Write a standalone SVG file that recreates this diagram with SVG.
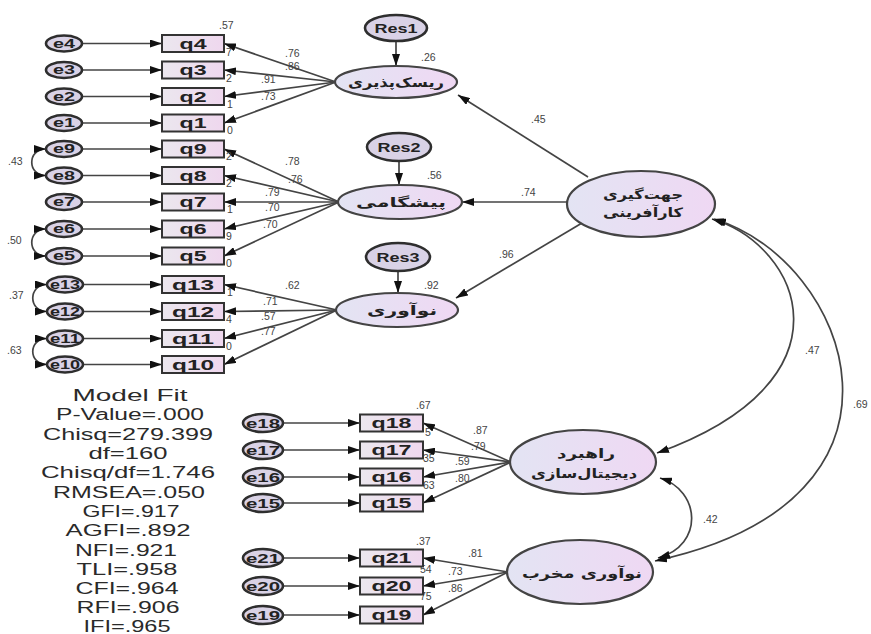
<svg xmlns="http://www.w3.org/2000/svg" width="871" height="634" viewBox="0 0 871 634">
<defs>
  <linearGradient id="boxFill" x1="0" y1="0" x2="1" y2="0">
    <stop offset="0" stop-color="#ebe7ee"/>
    <stop offset="1" stop-color="#efd7ee"/>
  </linearGradient>
  <linearGradient id="latFill" x1="0" y1="0" x2="1" y2="0">
    <stop offset="0" stop-color="#e3e4f3"/>
    <stop offset="1" stop-color="#efd8f3"/>
  </linearGradient>
  <marker id="ah" viewBox="0 0 12 8" refX="12" refY="4" markerWidth="12" markerHeight="8" markerUnits="userSpaceOnUse" orient="auto-start-reverse">
    <path d="M0,0 L12,4 L0,8 z" fill="#111"/>
  </marker>
</defs>
<style>
  .box{fill:url(#boxFill);stroke:#333;stroke-width:2}
  .err{fill:#d9d2e6;stroke:#2e2e2e;stroke-width:2.6}
  .lat{fill:url(#latFill);stroke:#444;stroke-width:2.2}
  .res{fill:#d9d2e6;stroke:#2e2e2e;stroke-width:2.6}
  .ln{stroke:#444;stroke-width:1.7;fill:none}
  .arr{marker-end:url(#ah)}
  .both{marker-start:url(#ah);marker-end:url(#ah)}
  .qt{font-family:"Liberation Sans",Arial,sans-serif;font-weight:bold;font-size:14px;fill:#222;text-anchor:middle}
  .et{font-family:"Liberation Sans",Arial,sans-serif;font-weight:bold;font-size:12px;fill:#222;text-anchor:middle}
  .rt{font-family:"Liberation Sans",Arial,sans-serif;font-weight:bold;font-size:13px;fill:#222;text-anchor:middle}
  .fa{font-family:"DejaVu Sans",sans-serif;font-weight:bold;font-size:13px;fill:#222;text-anchor:middle}
  .lb{font-family:"Liberation Sans",Arial,sans-serif;font-size:10.5px;fill:#444}
  .fit{font-family:"Liberation Sans",Arial,sans-serif;font-size:16px;fill:#2a2a2a;text-anchor:middle}
</style>

<!-- connectors -->
<g id="connectors">
  <!-- error terms to indicators -->
  <g class="ln arr">
    <line x1="82" y1="43.5" x2="162" y2="43.5"/>
    <line x1="82" y1="70" x2="162" y2="70"/>
    <line x1="82" y1="96.5" x2="162" y2="96.5"/>
    <line x1="82" y1="123" x2="162" y2="123"/>
    <line x1="82" y1="149" x2="162" y2="149"/>
    <line x1="82" y1="175.5" x2="162" y2="175.5"/>
    <line x1="82" y1="202" x2="162" y2="202"/>
    <line x1="82" y1="229" x2="162" y2="229"/>
    <line x1="82" y1="256" x2="162" y2="256"/>
    <line x1="83" y1="284.5" x2="162" y2="284.5"/>
    <line x1="83" y1="311.5" x2="162" y2="311.5"/>
    <line x1="83" y1="338.5" x2="162" y2="338.5"/>
    <line x1="83" y1="364.5" x2="162" y2="364.5"/>
    <line x1="283" y1="423" x2="360" y2="423"/>
    <line x1="283" y1="450" x2="360" y2="450"/>
    <line x1="283" y1="477" x2="360" y2="477"/>
    <line x1="283" y1="503" x2="360" y2="503"/>
    <line x1="283" y1="558" x2="360" y2="558"/>
    <line x1="283" y1="586" x2="360" y2="586"/>
    <line x1="283" y1="615" x2="360" y2="615"/>
  </g>
  <!-- factor loadings -->
  <g class="ln arr">
    <line x1="336" y1="82" x2="224" y2="43.5"/>
    <line x1="336" y1="82" x2="224" y2="70"/>
    <line x1="336" y1="82" x2="224" y2="96.5"/>
    <line x1="336" y1="82" x2="224" y2="123"/>
    <line x1="339" y1="202" x2="224" y2="149"/>
    <line x1="339" y1="202" x2="224" y2="175.5"/>
    <line x1="339" y1="202" x2="224" y2="202"/>
    <line x1="339" y1="202" x2="224" y2="229"/>
    <line x1="339" y1="202" x2="224" y2="256"/>
    <line x1="337" y1="310" x2="224" y2="284.5"/>
    <line x1="337" y1="310" x2="224" y2="311.5"/>
    <line x1="337" y1="310" x2="224" y2="338.5"/>
    <line x1="337" y1="310" x2="224" y2="364.5"/>
    <line x1="511" y1="462" x2="423" y2="423"/>
    <line x1="511" y1="462" x2="423" y2="450"/>
    <line x1="511" y1="462" x2="423" y2="477"/>
    <line x1="511" y1="462" x2="423" y2="503"/>
    <line x1="508" y1="572" x2="423" y2="558"/>
    <line x1="508" y1="572" x2="423" y2="586"/>
    <line x1="508" y1="572" x2="423" y2="615"/>
  </g>
  <!-- residuals to first-order factors -->
  <g class="ln arr">
    <line x1="396" y1="41" x2="396" y2="66"/>
    <line x1="399" y1="161" x2="399" y2="185"/>
    <line x1="398" y1="271" x2="398" y2="293"/>
  </g>
  <!-- second-order paths -->
  <g class="ln arr">
    <line x1="588" y1="177" x2="458" y2="95"/>
    <line x1="567" y1="202" x2="462" y2="202"/>
    <line x1="582" y1="223" x2="456" y2="298"/>
  </g>
  <!-- error covariances -->
  <g class="ln both">
    <path d="M46 149 C27 149 27 175.5 46 175.5"/>
    <path d="M46 229 C27 229 27 256 46 256"/>
    <path d="M47 284.5 C28 284.5 28 311.5 47 311.5"/>
    <path d="M47 338.5 C28 338.5 28 364.5 47 364.5"/>
  </g>
  <!-- factor covariances -->
  <g class="ln both">
    <path d="M712 219 C800 245 860 380 657 453"/>
    <path d="M714 219 C850 260 940 500 655 561"/>
    <path d="M660 478 C700 490 705 545 658 558"/>
  </g>
</g>

<!-- R-square values partly hidden behind the boxes -->
<g id="r2-fragments" class="lb">
  <text x="226" y="56">7</text>
  <text x="226" y="82">2</text>
  <text x="227" y="108">1</text>
  <text x="227" y="134">0</text>
  <text x="226" y="160">2</text>
  <text x="226" y="187">2</text>
  <text x="227" y="213">1</text>
  <text x="226" y="240">9</text>
  <text x="226" y="267">0</text>
  <text x="227" y="296">1</text>
  <text x="226" y="323">4</text>
  <text x="226" y="350">0</text>
  <text x="425" y="436">5</text>
  <text x="423" y="462">35</text>
  <text x="423" y="489">63</text>
  <text x="420" y="573">54</text>
  <text x="420" y="600">75</text>
</g>

<!-- error terms -->
<g id="e4"><ellipse class="err" cx="64" cy="43.5" rx="18" ry="8"/><text class="et" x="64" y="47.5" textLength="22" lengthAdjust="spacingAndGlyphs">e4</text></g>
<g id="e3"><ellipse class="err" cx="64" cy="70" rx="18" ry="8"/><text class="et" x="64" y="74" textLength="22" lengthAdjust="spacingAndGlyphs">e3</text></g>
<g id="e2"><ellipse class="err" cx="64" cy="96.5" rx="18" ry="8"/><text class="et" x="64" y="100.5" textLength="22" lengthAdjust="spacingAndGlyphs">e2</text></g>
<g id="e1"><ellipse class="err" cx="64" cy="123" rx="18" ry="8"/><text class="et" x="64" y="127" textLength="22" lengthAdjust="spacingAndGlyphs">e1</text></g>
<g id="e9"><ellipse class="err" cx="64" cy="149" rx="18" ry="8"/><text class="et" x="64" y="153" textLength="22" lengthAdjust="spacingAndGlyphs">e9</text></g>
<g id="e8"><ellipse class="err" cx="64" cy="175.5" rx="18" ry="8"/><text class="et" x="64" y="179.5" textLength="22" lengthAdjust="spacingAndGlyphs">e8</text></g>
<g id="e7"><ellipse class="err" cx="64" cy="202" rx="18" ry="8"/><text class="et" x="64" y="206" textLength="22" lengthAdjust="spacingAndGlyphs">e7</text></g>
<g id="e6"><ellipse class="err" cx="64" cy="229" rx="18" ry="8"/><text class="et" x="64" y="233" textLength="22" lengthAdjust="spacingAndGlyphs">e6</text></g>
<g id="e5"><ellipse class="err" cx="64" cy="256" rx="18" ry="8"/><text class="et" x="64" y="260" textLength="22" lengthAdjust="spacingAndGlyphs">e5</text></g>
<g id="e13"><ellipse class="err" cx="65" cy="284.5" rx="18" ry="8"/><text class="et" x="65" y="288.5" textLength="30" lengthAdjust="spacingAndGlyphs">e13</text></g>
<g id="e12"><ellipse class="err" cx="65" cy="311.5" rx="18" ry="8"/><text class="et" x="65" y="315.5" textLength="30" lengthAdjust="spacingAndGlyphs">e12</text></g>
<g id="e11"><ellipse class="err" cx="65" cy="338.5" rx="18" ry="8"/><text class="et" x="65" y="342.5" textLength="30" lengthAdjust="spacingAndGlyphs">e11</text></g>
<g id="e10"><ellipse class="err" cx="65" cy="364.5" rx="18" ry="8"/><text class="et" x="65" y="368.5" textLength="30" lengthAdjust="spacingAndGlyphs">e10</text></g>
<g id="e18"><ellipse class="err" cx="263" cy="423" rx="20" ry="9"/><text class="et" x="263" y="427.5" textLength="34" lengthAdjust="spacingAndGlyphs">e18</text></g>
<g id="e17"><ellipse class="err" cx="263" cy="450" rx="20" ry="9"/><text class="et" x="263" y="454.5" textLength="34" lengthAdjust="spacingAndGlyphs">e17</text></g>
<g id="e16"><ellipse class="err" cx="263" cy="477" rx="20" ry="9"/><text class="et" x="263" y="481.5" textLength="34" lengthAdjust="spacingAndGlyphs">e16</text></g>
<g id="e15"><ellipse class="err" cx="263" cy="503" rx="20" ry="9"/><text class="et" x="263" y="507.5" textLength="34" lengthAdjust="spacingAndGlyphs">e15</text></g>
<g id="e21"><ellipse class="err" cx="263" cy="558" rx="20" ry="9"/><text class="et" x="263" y="562.5" textLength="34" lengthAdjust="spacingAndGlyphs">e21</text></g>
<g id="e20"><ellipse class="err" cx="263" cy="586" rx="20" ry="9"/><text class="et" x="263" y="590.5" textLength="34" lengthAdjust="spacingAndGlyphs">e20</text></g>
<g id="e19"><ellipse class="err" cx="263" cy="615" rx="20" ry="9"/><text class="et" x="263" y="619.5" textLength="34" lengthAdjust="spacingAndGlyphs">e19</text></g>

<!-- indicators -->
<g id="q4"><rect class="box" x="162" y="35" width="62" height="17"/><text class="qt" x="193" y="48.5" textLength="27" lengthAdjust="spacingAndGlyphs">q4</text></g>
<g id="q3"><rect class="box" x="162" y="61.5" width="62" height="17"/><text class="qt" x="193" y="75" textLength="27" lengthAdjust="spacingAndGlyphs">q3</text></g>
<g id="q2"><rect class="box" x="162" y="88" width="62" height="17"/><text class="qt" x="193" y="101.5" textLength="27" lengthAdjust="spacingAndGlyphs">q2</text></g>
<g id="q1"><rect class="box" x="162" y="114.5" width="62" height="17"/><text class="qt" x="193" y="128" textLength="27" lengthAdjust="spacingAndGlyphs">q1</text></g>
<g id="q9"><rect class="box" x="162" y="140.5" width="62" height="17"/><text class="qt" x="193" y="154" textLength="27" lengthAdjust="spacingAndGlyphs">q9</text></g>
<g id="q8"><rect class="box" x="162" y="167" width="62" height="17"/><text class="qt" x="193" y="180.5" textLength="27" lengthAdjust="spacingAndGlyphs">q8</text></g>
<g id="q7"><rect class="box" x="162" y="193.5" width="62" height="17"/><text class="qt" x="193" y="207" textLength="27" lengthAdjust="spacingAndGlyphs">q7</text></g>
<g id="q6"><rect class="box" x="162" y="220.5" width="62" height="17"/><text class="qt" x="193" y="234" textLength="27" lengthAdjust="spacingAndGlyphs">q6</text></g>
<g id="q5"><rect class="box" x="162" y="247.5" width="62" height="17"/><text class="qt" x="193" y="261" textLength="27" lengthAdjust="spacingAndGlyphs">q5</text></g>
<g id="q13"><rect class="box" x="162" y="276" width="62" height="17"/><text class="qt" x="193" y="289.5" textLength="42" lengthAdjust="spacingAndGlyphs">q13</text></g>
<g id="q12"><rect class="box" x="162" y="303" width="62" height="17"/><text class="qt" x="193" y="316.5" textLength="42" lengthAdjust="spacingAndGlyphs">q12</text></g>
<g id="q11"><rect class="box" x="162" y="330" width="62" height="17"/><text class="qt" x="193" y="343.5" textLength="42" lengthAdjust="spacingAndGlyphs">q11</text></g>
<g id="q10"><rect class="box" x="162" y="356" width="62" height="17"/><text class="qt" x="193" y="369.5" textLength="42" lengthAdjust="spacingAndGlyphs">q10</text></g>
<g id="q18"><rect class="box" x="360" y="414.5" width="63" height="17"/><text class="qt" x="391.5" y="428" textLength="40" lengthAdjust="spacingAndGlyphs">q18</text></g>
<g id="q17"><rect class="box" x="360" y="441.5" width="63" height="17"/><text class="qt" x="391.5" y="455" textLength="40" lengthAdjust="spacingAndGlyphs">q17</text></g>
<g id="q16"><rect class="box" x="360" y="468.5" width="63" height="17"/><text class="qt" x="391.5" y="482" textLength="40" lengthAdjust="spacingAndGlyphs">q16</text></g>
<g id="q15"><rect class="box" x="360" y="494.5" width="63" height="17"/><text class="qt" x="391.5" y="508" textLength="40" lengthAdjust="spacingAndGlyphs">q15</text></g>
<g id="q21"><rect class="box" x="360" y="549.5" width="63" height="17"/><text class="qt" x="391.5" y="563" textLength="40" lengthAdjust="spacingAndGlyphs">q21</text></g>
<g id="q20"><rect class="box" x="360" y="577.5" width="63" height="17"/><text class="qt" x="391.5" y="591" textLength="40" lengthAdjust="spacingAndGlyphs">q20</text></g>
<g id="q19"><rect class="box" x="360" y="606.5" width="63" height="17"/><text class="qt" x="391.5" y="620" textLength="40" lengthAdjust="spacingAndGlyphs">q19</text></g>

<!-- residuals -->
<g id="Res1"><ellipse class="res" cx="396" cy="28" rx="31" ry="13"/><text class="rt" x="396" y="32.5" textLength="43" lengthAdjust="spacingAndGlyphs">Res1</text></g>
<g id="Res2"><ellipse class="res" cx="399" cy="147" rx="32" ry="14"/><text class="rt" x="399" y="151.5" textLength="43" lengthAdjust="spacingAndGlyphs">Res2</text></g>
<g id="Res3"><ellipse class="res" cx="398" cy="257" rx="32" ry="14"/><text class="rt" x="398" y="261.5" textLength="43" lengthAdjust="spacingAndGlyphs">Res3</text></g>

<!-- latent factors -->
<g id="risk-taking"><ellipse class="lat" cx="396" cy="82" rx="61" ry="16"/><text class="fa" x="396" y="87" textLength="96" lengthAdjust="spacingAndGlyphs">ریسک‌پذیری</text></g>
<g id="proactiveness"><ellipse class="lat" cx="400" cy="202" rx="62" ry="17"/><text class="fa" x="401" y="207" textLength="90" lengthAdjust="spacingAndGlyphs">پیشگامی</text></g>
<g id="innovativeness"><ellipse class="lat" cx="397" cy="310" rx="61" ry="17"/><text class="fa" x="402" y="315" textLength="70" lengthAdjust="spacingAndGlyphs">نوآوری</text></g>
<g id="entrepreneurial-orientation"><ellipse class="lat" cx="641" cy="204" rx="74" ry="33"/>
  <text class="fa" x="643" y="199" textLength="80" lengthAdjust="spacingAndGlyphs">جهت‌گیری</text>
  <text class="fa" x="643" y="217" textLength="80" lengthAdjust="spacingAndGlyphs">کارآفرینی</text></g>
<g id="digitalization-strategy"><ellipse class="lat" cx="583" cy="462" rx="73" ry="32"/>
  <text class="fa" x="586" y="458" textLength="58" lengthAdjust="spacingAndGlyphs">راهبرد</text>
  <text class="fa" x="584" y="478" textLength="106" lengthAdjust="spacingAndGlyphs">دیجیتال‌سازی</text></g>
<g id="disruptive-innovation"><ellipse class="lat" cx="580" cy="572" rx="73" ry="32"/>
  <text class="fa" x="582" y="578" textLength="120" lengthAdjust="spacingAndGlyphs">نوآوری مخرب</text></g>

<!-- coefficients -->
<g id="coefficients" class="lb">
  <text x="219" y="29">.57</text>
  <text x="421" y="61">.26</text>
  <text x="427" y="179">.56</text>
  <text x="424" y="289">.92</text>
  <text x="416" y="409">.67</text>
  <text x="416" y="545">.37</text>
  <text x="285" y="57">.76</text>
  <text x="285" y="70">.86</text>
  <text x="261" y="83">.91</text>
  <text x="261" y="100">.73</text>
  <text x="285" y="165">.78</text>
  <text x="288" y="183">.76</text>
  <text x="265" y="196">.79</text>
  <text x="265" y="211">.70</text>
  <text x="263" y="228">.70</text>
  <text x="285" y="289">.62</text>
  <text x="263" y="305">.71</text>
  <text x="261" y="320">.57</text>
  <text x="261" y="335">.77</text>
  <text x="473" y="434">.87</text>
  <text x="471" y="450">.79</text>
  <text x="455" y="465">.59</text>
  <text x="455" y="482">.80</text>
  <text x="468" y="557">.81</text>
  <text x="448" y="575">.73</text>
  <text x="448" y="592">.86</text>
  <text x="531" y="123">.45</text>
  <text x="521" y="196">.74</text>
  <text x="499" y="258">.96</text>
  <text x="805" y="354">.47</text>
  <text x="853" y="408">.69</text>
  <text x="703" y="523">.42</text>
  <text x="8" y="165">.43</text>
  <text x="7" y="244">.50</text>
  <text x="9" y="299">.37</text>
  <text x="7" y="354">.63</text>
</g>

<!-- model fit summary -->
<g id="model-fit" class="fit">
  <text x="130" y="401" textLength="115" lengthAdjust="spacingAndGlyphs">Model Fit</text>
  <text x="130" y="420" textLength="148" lengthAdjust="spacingAndGlyphs">P-Value=.000</text>
  <text x="128" y="439.5" textLength="170" lengthAdjust="spacingAndGlyphs">Chisq=279.399</text>
  <text x="128" y="459" textLength="79" lengthAdjust="spacingAndGlyphs">df=160</text>
  <text x="128" y="478" textLength="174" lengthAdjust="spacingAndGlyphs">Chisq/df=1.746</text>
  <text x="129" y="497.5" textLength="152" lengthAdjust="spacingAndGlyphs">RMSEA=.050</text>
  <text x="131" y="517" textLength="97" lengthAdjust="spacingAndGlyphs">GFI=.917</text>
  <text x="128" y="536" textLength="125" lengthAdjust="spacingAndGlyphs">AGFI=.892</text>
  <text x="126" y="555.5" textLength="102" lengthAdjust="spacingAndGlyphs">NFI=.921</text>
  <text x="127" y="575" textLength="101" lengthAdjust="spacingAndGlyphs">TLI=.958</text>
  <text x="127" y="594" textLength="103" lengthAdjust="spacingAndGlyphs">CFI=.964</text>
  <text x="128" y="613" textLength="103" lengthAdjust="spacingAndGlyphs">RFI=.906</text>
  <text x="127" y="632" textLength="87" lengthAdjust="spacingAndGlyphs">IFI=.965</text>
</g>
</svg>
